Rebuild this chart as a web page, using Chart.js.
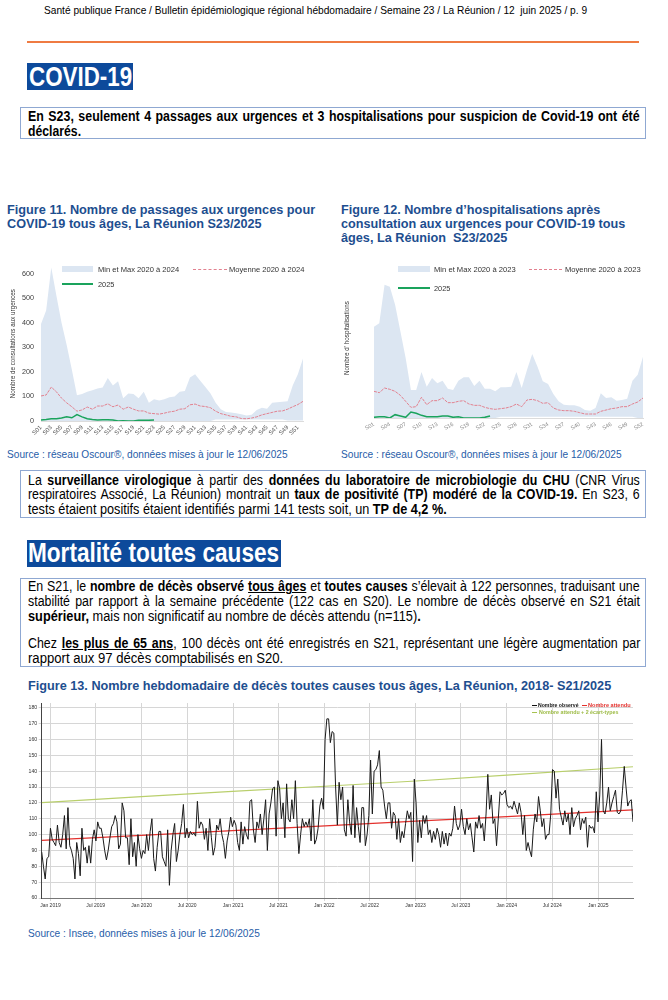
<!DOCTYPE html>
<html lang="fr"><head><meta charset="utf-8">
<script src="https://cdn.jsdelivr.net/npm/chart.js@4.4.1/dist/chart.umd.min.js"></script>
<style>
html,body{margin:0;padding:0;background:#fff;}
body{width:668px;height:1000px;position:relative;overflow:hidden;font-family:"Liberation Sans",Arial,sans-serif;color:#000;}
.a{position:absolute;white-space:nowrap;}
.hdr{left:44px;top:3px;font-size:11.5px;line-height:14px;}
.rule{left:27px;top:41.3px;width:612px;height:2px;background:#ef7b42;}
.sect{background:#0d4a9b;color:#fff;font-weight:bold;overflow:hidden;}
.box{position:absolute;box-sizing:border-box;left:20px;width:626px;border:1px solid #8fa8d2;padding-left:6.8px;font-size:14.67px;white-space:nowrap;}
.fig{color:#1d4e8f;font-weight:bold;font-size:13.5px;line-height:14px;}
.src{color:#1f5da8;font-size:11.5px;line-height:14px;}
canvas{position:absolute;}
.lt{position:absolute;font-size:7.5px;line-height:9px;color:#333;white-space:nowrap;}
.l13{position:absolute;font-size:5.4px;line-height:7px;font-weight:bold;white-space:nowrap;}
.sym{position:absolute;}
</style></head><body>

<div class="a hdr"><span data-w="542.7">Santé publique France / Bulletin épidémiologique régional hébdomadaire / Semaine 23 / La Réunion / 12&nbsp; juin 2025 / p. 9</span></div>
<div class="a rule"></div>

<div class="a sect" style="left:27px;top:62.7px;width:106px;height:27.3px;line-height:28px;font-size:28px;"><span data-w="103" style="margin-left:1.5px;">COVID-19</span></div>

<div class="box" style="top:107px;height:32.4px;padding-top:1.4px;line-height:14.4px;font-weight:bold;">
<div><span data-w="612" data-j="1" data-s="0.845">En S23, seulement 4 passages aux urgences et 3 hospitalisations pour suspicion de Covid-19 ont été</span></div>
<div><span data-w="53.4">déclarés.</span></div>
</div>

<div class="a fig" style="left:7px;top:203px;">
<div><span data-w="308">Figure 11. Nombre de passages aux urgences pour</span></div>
<div><span data-w="255">COVID-19 tous âges, La Réunion S23/2025</span></div>
</div>
<div class="a fig" style="left:340.6px;top:203px;">
<div><span data-w="259.4">Figure 12. Nombre d’hospitalisations après</span></div>
<div><span data-w="284.2">consultation aux urgences pour COVID-19 tous</span></div>
<div><span data-w="166.2">âges, La Réunion&nbsp; S23/2025</span></div>
</div>

<canvas id="c11" width="335" height="190" style="left:0px;top:255px;"></canvas>
<canvas id="c12" width="333" height="190" style="left:335px;top:255px;"></canvas>

<!-- legend figure 11 -->
<div class="sym" style="left:61.7px;top:266px;width:31.6px;height:6px;background:#dce6f2;"></div>
<div class="lt" style="left:97.7px;top:264.5px;"><span data-w="80.7">Min et Max 2020 à 2024</span></div>
<div class="sym" style="left:193.3px;top:268.5px;width:33.4px;border-top:1px dashed #e2808f;"></div>
<div class="lt" style="left:229.3px;top:264.5px;"><span data-w="75.7">Moyenne 2020 à 2024</span></div>
<div class="sym" style="left:61.7px;top:283.3px;width:31.6px;border-top:2px solid #1aa35c;"></div>
<div class="lt" style="left:97.7px;top:279.8px;"><span data-w="16.7">2025</span></div>
<!-- legend figure 12 -->
<div class="sym" style="left:398.3px;top:266.3px;width:31.7px;height:6px;background:#dce6f2;"></div>
<div class="lt" style="left:434.3px;top:264.8px;"><span data-w="81.3">Min et Max 2020 à 2023</span></div>
<div class="sym" style="left:529.3px;top:268.8px;width:32.4px;border-top:1px dashed #e2808f;"></div>
<div class="lt" style="left:565px;top:264.8px;"><span data-w="76">Moyenne 2020 à 2023</span></div>
<div class="sym" style="left:398.3px;top:287.3px;width:31.7px;border-top:2px solid #1aa35c;"></div>
<div class="lt" style="left:434.3px;top:283.8px;"><span data-w="16.7">2025</span></div>

<div class="a src" style="left:7.3px;top:447px;"><span data-w="281">Source : réseau Oscour®, données mises à jour le 12/06/2025</span></div>
<div class="a src" style="left:340.6px;top:447px;"><span data-w="281">Source : réseau Oscour®, données mises à jour le 12/06/2025</span></div>

<div class="box" style="top:470px;height:47.7px;padding-top:1.7px;line-height:14.65px;">
<div><span data-w="612" data-j="1" data-s="0.845">La <b>surveillance virologique</b> à partir des <b>données du laboratoire de microbiologie du CHU</b> (CNR Virus</span></div>
<div><span data-w="612" data-j="1" data-s="0.845">respiratoires Associé, La Réunion) montrait un <b>taux de positivité (TP) modéré de la COVID-19.</b> En S23, 6</span></div>
<div><span data-w="419">tests étaient positifs étaient identifiés parmi 141 tests soit, un <b>TP de 4,2 %.</b></span></div>
</div>

<div class="a sect" style="left:27px;top:540px;width:254px;height:26.7px;line-height:27.5px;font-size:27px;"><span data-w="251" style="margin-left:1.2px;">Mortalité toutes causes</span></div>

<div class="box" style="top:578.3px;height:88.8px;padding-top:0.2px;line-height:15px;">
<div><span data-w="612" data-j="1" data-s="0.845">En S21, le <b>nombre de décès observé</b> <b><u>tous âges</u></b> et <b>toutes causes</b> s’élevait à 122 personnes, traduisant une</span></div>
<div><span data-w="612" data-j="1" data-s="0.845">stabilité par rapport à la semaine précédente (122 cas en S20). Le nombre de décès observé en S21 était</span></div>
<div><span data-w="393"><b>supérieur,</b> mais non significatif au nombre de décès attendu (n=115)<b>.</b></span></div>
<div style="height:11.6px;"></div>
<div><span data-w="612" data-j="1" data-s="0.845">Chez <b><u>les plus de 65 ans</u></b>, 100 décès ont été enregistrés en S21, représentant une légère augmentation par</span></div>
<div><span data-w="255">rapport aux 97 décès comptabilisés en S20.</span></div>
</div>

<div class="a fig" style="left:27.8px;top:679px;"><span data-w="583">Figure 13. Nombre hebdomadaire de décès toutes causes tous âges, La Réunion, 2018- S21/2025</span></div>

<canvas id="c13" width="625" height="220" style="left:20px;top:695px;"></canvas>
<!-- legend figure 13 -->
<div class="sym" style="left:531.7px;top:704.5px;width:5.6px;border-top:1px solid #111;"></div>
<div class="l13" style="left:538.3px;top:701.5px;color:#111;"><span data-w="41">Nombre observé</span></div>
<div class="sym" style="left:581.7px;top:704.5px;width:5px;border-top:1px solid #e3312d;"></div>
<div class="l13" style="left:587.7px;top:701.5px;color:#e3312d;"><span data-w="42.3">Nombre attendu</span></div>
<div class="sym" style="left:532.3px;top:711.8px;width:5px;border-top:1px solid #a6c250;"></div>
<div class="l13" style="left:538.7px;top:708.8px;color:#9dbb45;"><span data-w="79.6">Nombre attendu + 2 écart-types</span></div>

<div class="a src" style="left:27.8px;top:926.3px;"><span data-w="232">Source : Insee, données mises à jour le 12/06/2025</span></div>

<script>
// fit each text line to the width it has in the reference (narrow type)
document.querySelectorAll('[data-w]').forEach(el => {
  el.style.display = 'inline-block';
  el.style.whiteSpace = 'nowrap';
  el.style.transformOrigin = '0 0';
  const target = parseFloat(el.dataset.w);
  const wn = el.offsetWidth;
  if (el.dataset.j) {
    const s = parseFloat(el.dataset.s);
    const n = (el.textContent.match(/ /g) || []).length;
    if (wn * s < target && n > 0) {
      el.style.wordSpacing = ((target / s - wn) / n) + 'px';
      el.style.transform = 'scaleX(' + s + ')';
    } else {
      el.style.transform = 'scaleX(' + (target / wn) + ')';
    }
  } else {
    el.style.transform = 'scaleX(' + (target / wn) + ')';
  }
});

// ---------- Figures 11 & 12 : categories ----------
const weeks = ['S01','S02','S03','S04','S05','S06','S07','S08','S09','S10','S11','S12','S13',
  'S14','S15','S16','S17','S18','S19','S20','S21','S22','S23','S24','S25','S26',
  'S27','S28','S29','S30','S31','S32','S33','S34','S35','S36','S37','S38','S39',
  'S40','S41','S42','S43','S44','S45','S46','S47','S48','S49','S50','S51','S52'];

// Figure 11 : passages aux urgences
const urgMax = [395,450,625,510,400,310,210,105,110,119,125,132,136,175,145,162,93,112,110,93,119,74,89,83,89,97,
  100,119,122,177,190,164,138,112,74,48,37,35,32,27,22,25,45,54,50,74,76,78,80,145,190,255];
const urgMin = [0,0,0,0,0,0,0,0,0,0,0,0,0,0,0,0,0,0,0,0,0,0,0,0,0,0,
  0,0,0,0,0,0,0,0,6,6,6,6,6,6,6,6,6,6,6,6,6,6,2,2,2,2];
const urgMean = [102,106,138,119,93,74,58,40,45,57,48,61,61,70,58,65,48,57,48,41,41,32,30,28,32,37,
  40,48,50,66,69,61,59,54,40,30,25,19,17,10,9,12,17,25,30,35,40,41,48,58,67,80];
const urg2025 = [4,6,9,9,12,17,13,26,17,9,6,4,5,5,4,0,1,0,0,3,3,3,4];
const urgTicks = [0,100,200,300,400,500,600];

// Figure 12 : hospitalisations
const hospMax = [137,142,200,197,170,130,90,42,42,69,47,60,52,56,44,42,56,61,61,48,56,44,44,40,46,46,
  47,69,45,72,96,77,55,51,36,25,20,19,19,17,12,11,15,37,30,31,26,27,29,56,65,92];
const hospMin = [0,0,0,0,0,0,0,0,0,0,0,0,0,0,0,0,0,0,0,0,0,0,0,0,2,2,
  2,2,2,2,2,2,2,2,2,2,2,2,2,2,2,2,2,2,2,2,2,2,2,2,0,0];
const hospMean = [40,38,45,43,40,34,25,16,17,31,20,26,26,30,23,23,25,26,21,19,19,16,14,13,14,15,
  17,21,17,27,28,26,22,23,15,12,11,11,10,8,6,6,6,10,12,14,15,17,17,21,24,30];
const hosp2025 = [1,2,2,0,5,3,1,9,7,4,2,2,2,3,3,1,2,0,0,0,0,1,3];

// ---------- Figure 13 : décès hebdomadaires (2018-S48 -> 2025-S21) ----------
const deathsObserved = [
  89,80,72,85,86,104,97,95,93,106,
  95,92,100,112,91,117,93,90,85,72,
  95,88,74,104,90,92,82,93,82,97,
  103,96,108,104,104,98,90,84,90,98,
  105,107,112,108,91,94,120,115,98,98,
  81,110,86,95,80,100,91,85,90,88,
  100,90,102,110,85,77,92,102,102,86,
  83,80,103,68,90,100,107,83,90,100,
  107,119,98,104,98,102,100,101,99,121,
  104,108,106,97,104,90,110,98,87,92,
  106,103,110,100,95,85,96,102,111,105,
  109,106,95,90,108,94,105,100,97,121,
  122,103,95,108,104,113,100,110,122,90,
  113,120,129,130,99,134,129,110,120,98,
  132,110,108,122,110,134,107,88,100,110,
  105,108,105,110,96,122,94,97,104,118,
  123,116,160,173,173,158,165,164,130,106,
  133,122,130,103,99,122,108,100,131,98,
  117,105,95,117,117,93,100,112,147,113,
  140,141,144,153,130,128,118,110,120,120,
  104,114,112,97,110,95,102,98,107,115,
  110,114,83,135,120,95,109,98,112,107,
  112,100,103,95,102,97,104,100,92,102,
  94,101,93,101,99,104,118,107,103,106,
  116,105,100,110,103,107,98,89,108,104,
  112,104,107,96,113,138,116,125,107,110,
  93,110,127,125,126,128,119,117,118,116,
  121,117,113,120,114,100,112,90,95,90,
  86,103,113,108,124,115,105,110,97,100,
  100,113,141,140,123,135,116,111,106,115,
  108,113,100,117,105,110,112,115,103,110,
  107,111,92,106,104,105,101,127,108,125,
  160,115,113,120,130,115,120,124,128,114,
  113,115,128,143,130,118,121,122,108];
// expected lines read at the start of each year (week index)
const expectedWeek = [0,57,109,162,214,266,338];
const expectedDeaths = [96.3,99.5,102.5,105.5,108.5,111.3,115.6];
const expectedUpper = [120.2,124.0,127.3,130.5,133.8,137.5,142.8];
// x tick labels and their positions (week index)
const tickLabels13 = ['Jan 2019','Jul 2019','Jan 2020','Jul 2020','Jan 2021','Jul 2021','Jan 2022',
  'Jul 2022','Jan 2023','Jul 2023','Jan 2024','Jul 2024','Jan 2025'];
const tickWeeks13 = [5,30.86,57.14,83.14,109.43,135.29,161.57,187.43,213.71,239.57,265.86,291.86,318.14];
const yTicks13 = [60,70,80,90,100,110,120,130,140,150,160,170,180];

Chart.defaults.font.family = '"Liberation Sans",Arial,sans-serif';
Chart.defaults.animation = false;

function envChart(id, mn, mx, mean, cur, yMax, o) {
  return new Chart(document.getElementById(id), {
    type: 'line',
    data: {
      labels: weeks,
      datasets: [
        {label: 'min', data: mn, borderWidth: 0, pointRadius: 0, fill: false, order: 3, borderColor: 'rgba(0,0,0,0)'},
        {label: o.envLabel, data: mx, borderWidth: 0, pointRadius: 0, backgroundColor: '#dce6f2', borderColor: 'rgba(0,0,0,0)', fill: '-1', order: 3},
        {label: o.meanLabel, data: mean, borderColor: '#e2808f', borderWidth: 1, borderDash: [3, 1], pointRadius: 0, fill: false, order: 1},
        {label: '2025', data: cur, borderColor: '#1aa35c', borderWidth: 1.5, pointRadius: 0, fill: false, order: 0}
      ]
    },
    options: {
      responsive: false,
      animation: false,
      layout: {padding: o.padding},
      plugins: {legend: {display: false}, tooltip: {enabled: false}},
      scales: {
        x: {
          offset: false,
          grid: {display: false, drawTicks: false},
          border: {display: true, color: '#dcdcdc'},
          ticks: {autoSkip: false, minRotation: o.rot, maxRotation: o.rot, padding: 3,
            font: {size: o.xFont}, color: o.xColor,
            callback: (v, i) => (i % o.every === 0 ? weeks[i] : '')},
          afterFit: s => { s.height = o.xHeight; }
        },
        y: {
          min: 0, max: yMax,
          afterBuildTicks: s => { if (o.yTicks) s.ticks = urgTicks.map(v => ({value: v})); },
          grid: {display: false, drawTicks: false},
          border: {display: false},
          ticks: {display: o.yTicks, padding: 7, font: {size: 7.2}, color: '#404040'},
          title: {display: true, text: o.yTitle, font: {size: 6.3}, color: '#333', padding: {top: o.titlePad, bottom: 0}},
          afterFit: s => { s.width = o.yWidth; }
        }
      }
    }
  });
}

envChart('c11', urgMin, urgMax, urgMean, urg2025, 630, {
  envLabel: 'Min et Max 2020 à 2024', meanLabel: 'Moyenne 2020 à 2024',
  padding: {left: 0, right: 32, top: 3, bottom: 0}, rot: 45, every: 2, xColor: '#555', xFont: 6,
  xHeight: 24, yTicks: true, yTitle: 'Nombre de consultations aux urgences', titlePad: 9.5, yWidth: 41
});
envChart('c12', hospMin, hospMax, hospMean, hosp2025, 240, {
  envLabel: 'Min et Max 2020 à 2023', meanLabel: 'Moyenne 2020 à 2023',
  padding: {left: 0, right: 25, top: 3, bottom: 0}, rot: 30, every: 3, xColor: '#888', xFont: 5.5,
  xHeight: 27, yTicks: false, yTitle: 'Nombre d\u2019 hospitalisations', titlePad: 8.2, yWidth: 39
});

new Chart(document.getElementById('c13'), {
  type: 'line',
  data: {
    datasets: [
      {label: 'Nombre observé', data: deathsObserved.map((v, i) => ({x: i, y: v})),
        borderColor: '#1a1a1a', borderWidth: 1, pointRadius: 0, order: 0},
      {label: 'Nombre attendu', data: expectedWeek.map((w, k) => ({x: w, y: expectedDeaths[k]})),
        borderColor: '#e3312d', borderWidth: 1.3, pointRadius: 0, order: 1},
      {label: 'Nombre attendu + 2 écart-types', data: expectedWeek.map((w, k) => ({x: w, y: expectedUpper[k]})),
        borderColor: '#b9cf6c', borderWidth: 1.2, pointRadius: 0, order: 2}
    ]
  },
  options: {
    responsive: false,
    animation: false,
    layout: {padding: {left: 0, right: 12, top: 8, bottom: 0}},
    plugins: {legend: {display: false}, tooltip: {enabled: false}},
    scales: {
      x: {
        type: 'linear', min: 0, max: 338,
        afterBuildTicks: s => { s.ticks = tickWeeks13.map(v => ({value: v})); },
        ticks: {autoSkip: false, maxRotation: 0, minRotation: 0, padding: 2, font: {size: 5}, color: '#333',
          callback: (v, i) => tickLabels13[i]},
        grid: {color: '#d6d6d6', tickLength: 3},
        border: {color: '#777'},
        afterFit: s => { s.height = 17; }
      },
      y: {
        min: 60, max: 183,
        afterBuildTicks: s => { s.ticks = yTicks13.map(v => ({value: v})); },
        ticks: {padding: 1.5, font: {size: 5.2}, color: '#333'},
        grid: {color: '#d6d6d6', tickLength: 3},
        border: {color: '#444'},
        afterFit: s => { s.width = 21.7; }
      }
    }
  }
});
</script>
</body></html>
